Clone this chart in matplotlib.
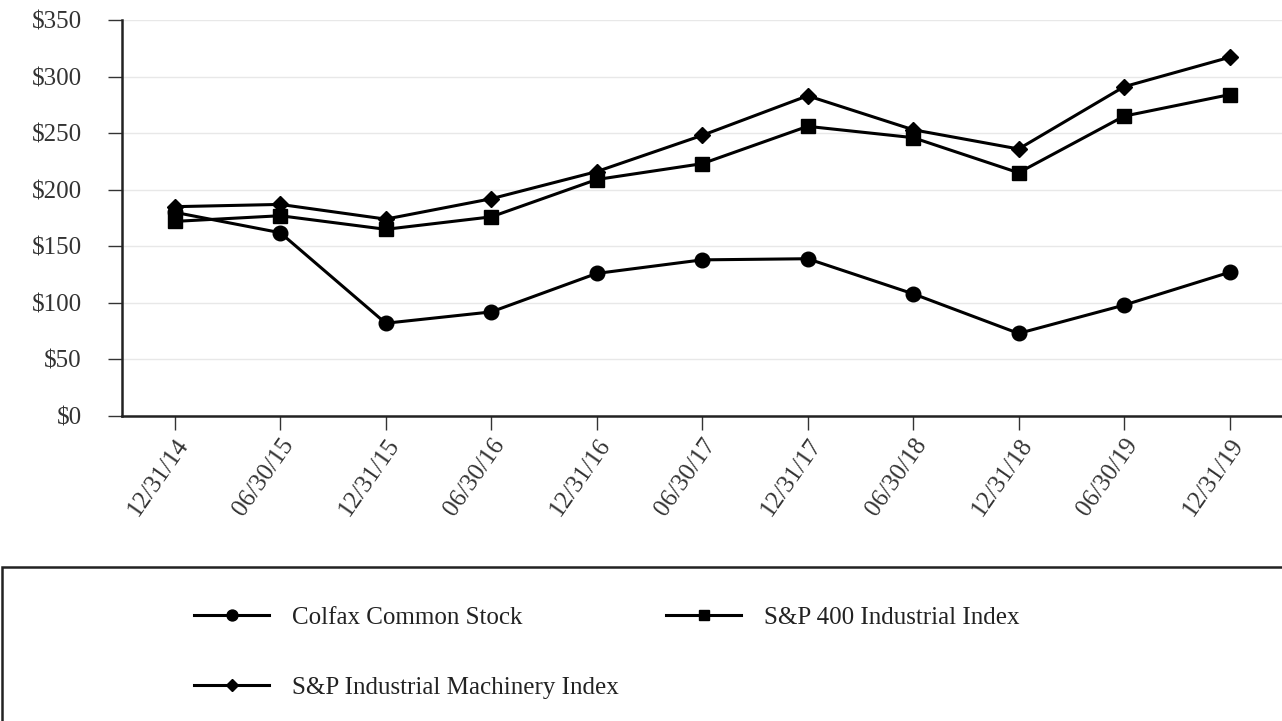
import matplotlib.pyplot as plt
from matplotlib.patches import Rectangle

plt.rcParams['font.family'] = ['Liberation Serif', 'DejaVu Serif']

dates = ['12/31/14', '06/30/15', '12/31/15', '06/30/16', '12/31/16', '06/30/17',
         '12/31/17', '06/30/18', '12/31/18', '06/30/19', '12/31/19']
colfax = [180, 162, 82, 92, 126, 138, 139, 108, 73, 98, 127]
sp400_ind = [172, 177, 165, 176, 209, 223, 256, 246, 215, 265, 284]
sp_machinery = [185, 187, 174, 192, 216, 248, 283, 253, 236, 291, 317]

y_ticks = [0, 50, 100, 150, 200, 250, 300, 350]
y_labels = ['$0', '$50', '$100', '$150', '$200', '$250', '$300', '$350']

fig = plt.figure(figsize=(12.82, 7.21), dpi=100)
ax = fig.add_axes([0.0952, 0.423, 0.905, 0.5493])

x = range(len(dates))
l1, = ax.plot(x, colfax, color='black', linewidth=2.2, marker='o', markersize=10.5,
              label='Colfax Common Stock')
l2, = ax.plot(x, sp400_ind, color='black', linewidth=2.2, marker='s', markersize=10,
              label='S&P 400 Industrial Index')
l3, = ax.plot(x, sp_machinery, color='black', linewidth=2.2, marker='D', markersize=8.5,
              label='S&P Industrial Machinery Index')

ax.set_xlim(-0.5, 10.5)
ax.set_ylim(0, 350)
ax.set_yticks(y_ticks, y_labels)
ax.set_xticks(list(x), dates)
ax.tick_params(axis='y', length=10, width=1, pad=19, labelsize=18, colors='#333333')
ax.tick_params(axis='x', length=10, width=1, pad=3, labelsize=18, colors='#333333')
for lbl in ax.get_xticklabels():
    lbl.set_rotation(55)
    lbl.set_ha('right')
    lbl.set_rotation_mode('anchor')

ax.grid(axis='y', color='#e8e8e8', linewidth=1)
ax.set_axisbelow(True)
ax.spines['top'].set_visible(False)
ax.spines['right'].set_visible(False)
ax.spines['left'].set_linewidth(1.8)
ax.spines['bottom'].set_linewidth(1.8)
ax.spines['left'].set_color('#222222')
ax.spines['bottom'].set_color('#222222')

# legend box across the bottom
fig.patches.append(Rectangle((0.0016, -0.05), 1.0, 0.2636, transform=fig.transFigure,
                             fill=False, edgecolor='#222222', linewidth=1.8))
# column-wise fill: row 1 = Colfax, S&P 400; row 2 = Machinery
fig.legend([l1, l3, l2], [l1.get_label(), l3.get_label(), l2.get_label()],
           ncol=2, frameon=False, loc='upper left',
           bbox_to_anchor=(0.134, 0.19), fontsize=18, handlelength=3,
           handletextpad=0.9, columnspacing=1.9, labelspacing=1.9,
           markerscale=0.75, labelcolor='#222222')

fig.savefig('out.png', dpi=100)
